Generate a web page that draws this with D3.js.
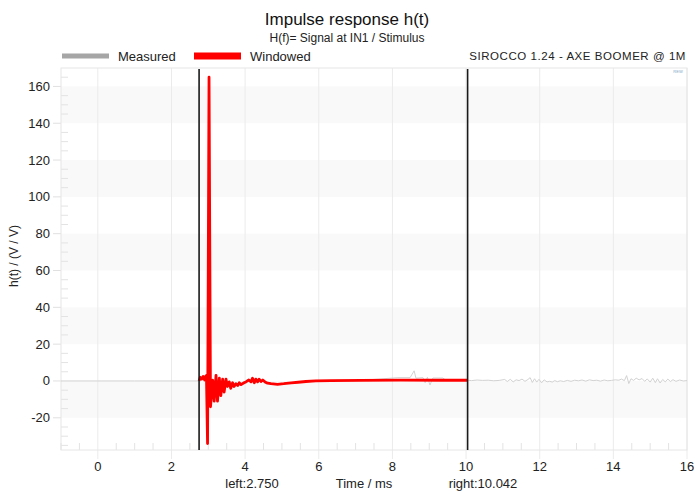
<!DOCTYPE html>
<html>
<head>
<meta charset="utf-8">
<script src="https://cdn.jsdelivr.net/npm/d3@7"></script>
<style>
    body { margin: 0; background: #fff; }
    #chart { width: 695px; height: 494px; }
    text { font-family: "Liberation Sans", Arial, sans-serif; }
</style>
</head>
<body>
<div id="chart"></div>
<script>

// windowed impulse (red), time in ms
let winT = [2.75, 2.78, 2.82, 2.86, 2.90, 2.93, 2.95, 2.98, 3.02, 3.06, 3.12, 3.16, 3.21, 3.25, 3.30, 3.34,
            3.39, 3.43, 3.48, 3.52, 3.57, 3.61, 3.66, 3.70, 3.75, 3.80, 3.84, 3.89, 3.97, 4.02, 4.10, 4.16,
            4.20, 4.25, 4.29, 4.34, 4.38, 4.43, 4.48, 4.54, 4.61, 4.70, 4.88, 5.05, 5.25, 5.44, 5.65, 5.92,
            6.33, 7.15, 8.23, 9.32, 10.042];
let winV = [0, 2, 1, 2.5, 0.5, 2.5, 3, -34, 165, -14, 0.5, -11, 3, -11, 1.5, -8,
            1, -6, 1, -3, -0.5, -4, -1, -3, -1.5, -2.5, -1, -2, -1, -0.5, 0.5, -0.5,
            1.5, -1, 1, -0.5, 1, -0.3, 0.5, -0.5, -1.2, -1.5, -1.8, -1.5, -1, -0.7, -0.3, 0,
            0.2, 0.3, 0.5, 0.4, 0.4];

// measured (grey): before the window, and where it differs from the windowed curve
let measHeadT = [-1, 0, 1, 2, 2.75];
let measHeadV = [0, 0, 0, 0, 0];
let measTailT = [8.15, 8.48, 8.59, 8.64, 8.83, 8.89, 8.95, 9.02, 9.10, 9.37, 9.45, 10.04,
                 10.15, 10.3, 10.45, 10.6, 10.75, 10.9, 11.05, 11.12, 11.2, 11.28, 11.36, 11.44, 11.52,
                 11.6, 11.68, 11.74, 11.8, 11.86, 11.92, 11.98, 12.05, 12.12, 12.2, 12.27, 12.34, 12.41,
                 12.48, 12.56, 12.65, 12.75, 12.85, 12.95, 13.05, 13.15, 13.25, 13.35, 13.45, 13.55,
                 13.65, 13.75, 13.85, 13.95, 14.05, 14.15, 14.22, 14.3, 14.36, 14.42, 14.48, 14.55,
                 14.62, 14.7, 14.78, 14.85, 14.92, 15.0, 15.07, 15.14, 15.2, 15.27, 15.34, 15.41,
                 15.48, 15.55, 15.62, 15.7, 15.8, 15.9, 16.0];
let measTailV = [1.8, 1.8, 5.5, 1.5, 1.8, -1, 2, -2.2, 1.6, 1.6, 0.4, 0.4,
                 0.2, 0.5, 0.3, 0.4, 0.1, 0.3, 0.8, -0.3, 0.9, -0.5, 0.6, 0.2, 1.0,
                 -0.2, 0.8, 1.8, -0.8, 1.2, -0.6, 0.9, -1.0, 0.6, -0.5, -0.2, -0.6, 0.2,
                 -0.4, 0.1, -0.3, 0.3, -0.2, 0.4, 0.1, 0.5, -0.1, 0.6, 0.2, 0.4,
                 -0.1, 0.5, 0.1, 0.3, 0.6, 0.4, 1.0, 0.2, 2.9, -1.4, 1.2, 0.3,
                 1.5, 0.6, 1.3, -0.2, 1.1, -0.6, 1.5, -0.9, 1.2, -1.1, 0.8, -0.5,
                 1.0, -0.3, 0.7, -0.2, 0.5, 0.0, 0.2];

let windowLeft = 2.750;
let windowRight = 10.042;

let xTicks = [0, 2, 4, 6, 8, 10, 12, 14, 16];
let yTicks = [-20, 0, 20, 40, 60, 80, 100, 120, 140, 160];
let yBands = [[-20, 0], [20, 40], [60, 80], [100, 120], [140, 160]];

let measT = measHeadT.concat(winT.filter(t => t > 2.75 && t < 8.1), measTailT);
let measV = measHeadV.concat(winV.filter((v, i) => winT[i] > 2.75 && winT[i] < 8.1), measTailV);
let measured = measT.map((t, i) => ({t: t, v: measV[i]}));
let windowed = winT.map((t, i) => ({t: t, v: winV[i]}));

const mg = {top: 68, right: 8, bottom: 44, left: 61};
const W = 695, H = 494;
const wd = W - mg.left - mg.right;
const ht = H - mg.top - mg.bottom;

const svg = d3.select('#chart').append('svg')
    .attr('width', W)
    .attr('height', H);

const g = svg.append('g')
    .attr('transform', 'translate(' + mg.left + ',' + mg.top + ')');

const x = d3.scaleLinear().domain([-1, 16]).range([0, wd]);
const y = d3.scaleLinear().domain([-37.5, 170]).range([ht, 0]);

// alternating bands
g.selectAll('.band').data(yBands).enter().append('rect')
    .attr('x', 0)
    .attr('width', wd)
    .attr('y', d => y(d[1]))
    .attr('height', d => y(d[0]) - y(d[1]))
    .attr('fill', '#f9f9f9');

// vertical grid, slightly past bottom edge
g.selectAll('.vgrid').data(xTicks).enter().append('line')
    .attr('x1', d => x(d)).attr('x2', d => x(d))
    .attr('y1', 0).attr('y2', ht + 9)
    .attr('stroke', '#ebebeb')
    .attr('stroke-width', 1);

// minor ticks
let xMinor = d3.range(-1, 16.01, 0.5).filter(d => d % 2 !== 0);
g.selectAll('.xminor').data(xMinor).enter().append('line')
    .attr('x1', d => x(d)).attr('x2', d => x(d))
    .attr('y1', ht - 7).attr('y2', ht)
    .attr('stroke', '#e3e3e3');

let yMinor = d3.range(-35, 170, 5).filter(d => d % 20 !== 0);
g.selectAll('.yminor').data(yMinor).enter().append('line')
    .attr('x1', 0).attr('x2', 7)
    .attr('y1', d => y(d)).attr('y2', d => y(d))
    .attr('stroke', '#e3e3e3');

g.selectAll('.ymajor').data(yTicks).enter().append('line')
    .attr('x1', -8).attr('x2', 0)
    .attr('y1', d => y(d)).attr('y2', d => y(d))
    .attr('stroke', '#e0e0e0');

// frame
g.append('rect')
    .attr('width', wd).attr('height', ht)
    .attr('fill', 'none')
    .attr('stroke', '#e6e6e6');

// tick labels
g.selectAll('.xlab').data(xTicks).enter().append('text')
    .attr('x', d => x(d))
    .attr('y', ht + 21)
    .attr('text-anchor', 'middle')
    .attr('font-size', 13)
    .attr('fill', '#222')
    .text(d => d);

g.selectAll('.ylab').data(yTicks).enter().append('text')
    .attr('x', -11)
    .attr('y', d => y(d) + 4.5)
    .attr('text-anchor', 'end')
    .attr('font-size', 13)
    .attr('fill', '#222')
    .text(d => d);

const line = d3.line()
    .x(d => x(d.t))
    .y(d => y(d.v));

g.append('path')
    .datum(measured)
    .attr('d', line)
    .attr('fill', 'none')
    .attr('stroke', '#d2d2d2')
    .attr('stroke-width', 1);

g.append('path')
    .datum(windowed)
    .attr('d', line)
    .attr('fill', 'none')
    .attr('stroke', '#ff0000')
    .attr('stroke-width', 2.8)
    .attr('stroke-linejoin', 'round');

// window limits
g.selectAll('.wline').data([windowLeft, windowRight]).enter().append('line')
    .attr('x1', d => x(d)).attr('x2', d => x(d))
    .attr('y1', 1).attr('y2', ht)
    .attr('stroke', '#1a1a1a')
    .attr('stroke-width', 1.6);

// axis labels
let bottomLabels = [{txt: 'left:' + windowLeft.toFixed(3), cx: 252},
                    {txt: 'Time / ms', cx: 364},
                    {txt: 'right:' + windowRight.toFixed(3), cx: 483}];
svg.selectAll('.blab').data(bottomLabels).enter().append('text')
    .attr('x', d => d.cx)
    .attr('y', mg.top + ht + 38)
    .attr('text-anchor', 'middle')
    .attr('font-size', 13)
    .attr('fill', '#222')
    .text(d => d.txt);

svg.append('text')
    .attr('transform', 'translate(18,' + (mg.top + ht / 2 - 3) + ') rotate(-90)')
    .attr('text-anchor', 'middle')
    .attr('font-size', 12)
    .attr('fill', '#222')
    .text('h(t) / (V / V)');

// titles
svg.append('text')
    .attr('x', 347).attr('y', 25)
    .attr('text-anchor', 'middle')
    .attr('font-size', 17)
    .attr('fill', '#111')
    .text('Impulse response h(t)');

svg.append('text')
    .attr('x', 347).attr('y', 42)
    .attr('text-anchor', 'middle')
    .attr('font-size', 12)
    .attr('fill', '#222')
    .text('H(f)= Signal at IN1 / Stimulus');

svg.append('text')
    .attr('x', 686).attr('y', 60)
    .attr('text-anchor', 'end')
    .attr('font-size', 11.5)
    .attr('letter-spacing', '0.55px')
    .attr('fill', '#222')
    .text('SIROCCO 1.24 - AXE BOOMER @ 1M');

// legend
let legend = [{name: 'Measured', color: '#a6a6a6', x: 62, h: 5},
              {name: 'Windowed', color: '#ff0000', x: 194, h: 7}];
let lg = svg.selectAll('.legend').data(legend).enter().append('g');
lg.append('rect')
    .attr('x', d => d.x).attr('y', d => 56 - d.h / 2)
    .attr('width', 47).attr('height', d => d.h)
    .attr('fill', d => d.color);
lg.append('text')
    .attr('x', d => d.x + 56).attr('y', 61)
    .attr('font-size', 13)
    .attr('fill', '#222')
    .text(d => d.name);

// small watermark in the corner
svg.append('text')
    .attr('x', 678).attr('y', 73)
    .attr('text-anchor', 'middle')
    .attr('font-size', 4)
    .attr('fill', '#7fa8c8')
    .text('REW');

</script>
</body>
</html>
